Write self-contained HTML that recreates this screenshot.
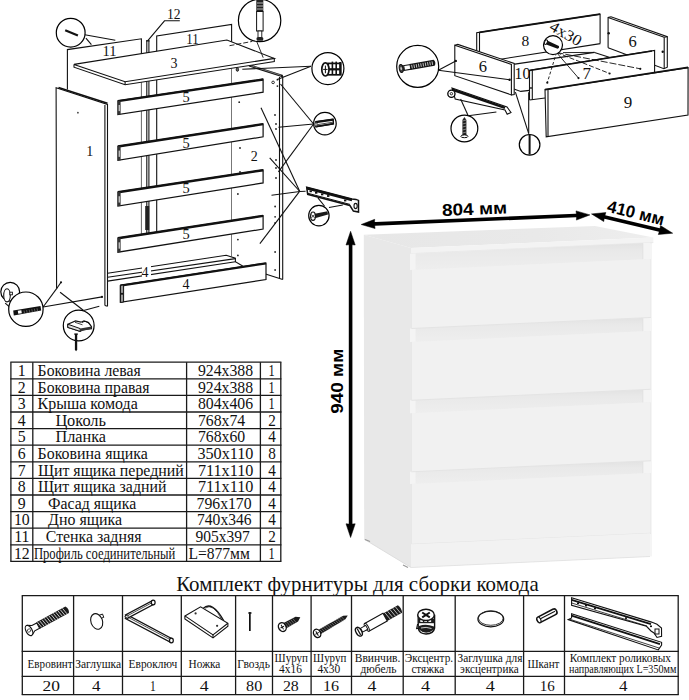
<!DOCTYPE html>
<html><head><meta charset="utf-8"><style>
html,body{margin:0;padding:0;background:#fff;}
body{width:689px;height:700px;overflow:hidden;}
svg{display:block;}
.S{font-family:"Liberation Serif", serif;fill:#111;}
.A{font-family:"Liberation Sans", sans-serif;fill:#000;}
</style></head><body>
<svg width="689" height="700" viewBox="0 0 689 700">
<g stroke="#1a1a1a" stroke-width="1.3">
<line x1="10.3" y1="362.2" x2="281.4" y2="362.2" stroke="#1a1a1a" stroke-width="1.3"/>
<line x1="10.3" y1="378.8" x2="281.4" y2="378.8" stroke="#1a1a1a" stroke-width="1.3"/>
<line x1="10.3" y1="395.4" x2="281.4" y2="395.4" stroke="#1a1a1a" stroke-width="1.3"/>
<line x1="10.3" y1="412.0" x2="281.4" y2="412.0" stroke="#1a1a1a" stroke-width="1.3"/>
<line x1="10.3" y1="428.6" x2="281.4" y2="428.6" stroke="#1a1a1a" stroke-width="1.3"/>
<line x1="10.3" y1="445.2" x2="281.4" y2="445.2" stroke="#1a1a1a" stroke-width="1.3"/>
<line x1="10.3" y1="461.8" x2="281.4" y2="461.8" stroke="#1a1a1a" stroke-width="1.3"/>
<line x1="10.3" y1="478.4" x2="281.4" y2="478.4" stroke="#1a1a1a" stroke-width="1.3"/>
<line x1="10.3" y1="495.0" x2="281.4" y2="495.0" stroke="#1a1a1a" stroke-width="1.3"/>
<line x1="10.3" y1="511.6" x2="281.4" y2="511.6" stroke="#1a1a1a" stroke-width="1.3"/>
<line x1="10.3" y1="528.2" x2="281.4" y2="528.2" stroke="#1a1a1a" stroke-width="1.3"/>
<line x1="10.3" y1="544.8" x2="281.4" y2="544.8" stroke="#1a1a1a" stroke-width="1.3"/>
<line x1="10.3" y1="561.4" x2="281.4" y2="561.4" stroke="#1a1a1a" stroke-width="1.3"/>
<line x1="10.9" y1="362.2" x2="10.9" y2="561.4" stroke="#1a1a1a" stroke-width="1.3"/>
<line x1="32.8" y1="362.2" x2="32.8" y2="561.4" stroke="#1a1a1a" stroke-width="1.3"/>
<line x1="186.6" y1="362.2" x2="186.6" y2="561.4" stroke="#1a1a1a" stroke-width="1.3"/>
<line x1="260.4" y1="362.2" x2="260.4" y2="561.4" stroke="#1a1a1a" stroke-width="1.3"/>
<line x1="280.8" y1="362.2" x2="280.8" y2="561.4" stroke="#1a1a1a" stroke-width="1.3"/>
</g>
<text x="21.8" y="376.0" class="S" font-size="15.8" text-anchor="middle">1</text>
<text x="37.6" y="376.0" class="S" font-size="15.8" textLength="103.2" lengthAdjust="spacingAndGlyphs">Боковина левая</text>
<text x="197.9" y="376.0" class="S" font-size="15.8" textLength="55.2" lengthAdjust="spacingAndGlyphs">924x388</text>
<text x="268.6" y="376.0" class="S" font-size="15.8" textLength="6.2" lengthAdjust="spacingAndGlyphs">1</text>
<text x="21.8" y="392.6" class="S" font-size="15.8" text-anchor="middle">2</text>
<text x="37.6" y="392.6" class="S" font-size="15.8" textLength="111.8" lengthAdjust="spacingAndGlyphs">Боковина правая</text>
<text x="197.9" y="392.6" class="S" font-size="15.8" textLength="55.2" lengthAdjust="spacingAndGlyphs">924x388</text>
<text x="268.6" y="392.6" class="S" font-size="15.8" textLength="6.2" lengthAdjust="spacingAndGlyphs">1</text>
<text x="21.8" y="409.2" class="S" font-size="15.8" text-anchor="middle">3</text>
<text x="37.6" y="409.2" class="S" font-size="15.8" textLength="100.2" lengthAdjust="spacingAndGlyphs">Крыша комода</text>
<text x="197.9" y="409.2" class="S" font-size="15.8" textLength="55.2" lengthAdjust="spacingAndGlyphs">804x406</text>
<text x="268.6" y="409.2" class="S" font-size="15.8" textLength="6.2" lengthAdjust="spacingAndGlyphs">1</text>
<text x="21.8" y="425.8" class="S" font-size="15.8" text-anchor="middle">4</text>
<text x="55.5" y="425.8" class="S" font-size="15.8" textLength="50.5" lengthAdjust="spacingAndGlyphs">Цоколь</text>
<text x="197.9" y="425.8" class="S" font-size="15.8" textLength="47.3" lengthAdjust="spacingAndGlyphs">768x74</text>
<text x="268.2" y="425.8" class="S" font-size="15.8" textLength="7.6" lengthAdjust="spacingAndGlyphs">2</text>
<text x="21.8" y="442.4" class="S" font-size="15.8" text-anchor="middle">5</text>
<text x="55.5" y="442.4" class="S" font-size="15.8" textLength="50.5" lengthAdjust="spacingAndGlyphs">Планка</text>
<text x="197.9" y="442.4" class="S" font-size="15.8" textLength="47.3" lengthAdjust="spacingAndGlyphs">768x60</text>
<text x="268.2" y="442.4" class="S" font-size="15.8" textLength="7.6" lengthAdjust="spacingAndGlyphs">4</text>
<text x="21.8" y="459.0" class="S" font-size="15.8" text-anchor="middle">6</text>
<text x="37.6" y="459.0" class="S" font-size="15.8" textLength="110.2" lengthAdjust="spacingAndGlyphs">Боковина ящика</text>
<text x="197.4" y="459.0" class="S" font-size="15.8" textLength="56.0" lengthAdjust="spacingAndGlyphs">350x110</text>
<text x="268.2" y="459.0" class="S" font-size="15.8" textLength="7.6" lengthAdjust="spacingAndGlyphs">8</text>
<text x="21.8" y="475.6" class="S" font-size="15.8" text-anchor="middle">7</text>
<text x="37.9" y="475.6" class="S" font-size="15.8" textLength="145.9" lengthAdjust="spacingAndGlyphs">Щит ящика передний</text>
<text x="197.9" y="475.6" class="S" font-size="15.8" textLength="55.5" lengthAdjust="spacingAndGlyphs">711x110</text>
<text x="268.2" y="475.6" class="S" font-size="15.8" textLength="7.6" lengthAdjust="spacingAndGlyphs">4</text>
<text x="21.8" y="492.2" class="S" font-size="15.8" text-anchor="middle">8</text>
<text x="37.9" y="492.2" class="S" font-size="15.8" textLength="128.5" lengthAdjust="spacingAndGlyphs">Щит ящика задний</text>
<text x="197.9" y="492.2" class="S" font-size="15.8" textLength="55.5" lengthAdjust="spacingAndGlyphs">711x110</text>
<text x="268.2" y="492.2" class="S" font-size="15.8" textLength="7.6" lengthAdjust="spacingAndGlyphs">4</text>
<text x="21.8" y="508.8" class="S" font-size="15.8" text-anchor="middle">9</text>
<text x="48.1" y="508.8" class="S" font-size="15.8" textLength="88.1" lengthAdjust="spacingAndGlyphs">Фасад ящика</text>
<text x="196.6" y="508.8" class="S" font-size="15.8" textLength="55.0" lengthAdjust="spacingAndGlyphs">796x170</text>
<text x="268.2" y="508.8" class="S" font-size="15.8" textLength="7.6" lengthAdjust="spacingAndGlyphs">4</text>
<text x="21.8" y="525.4" class="S" font-size="15.8" text-anchor="middle">10</text>
<text x="48.1" y="525.4" class="S" font-size="15.8" textLength="74.1" lengthAdjust="spacingAndGlyphs">Дно ящика</text>
<text x="197.0" y="525.4" class="S" font-size="15.8" textLength="54.6" lengthAdjust="spacingAndGlyphs">740x346</text>
<text x="268.2" y="525.4" class="S" font-size="15.8" textLength="7.6" lengthAdjust="spacingAndGlyphs">4</text>
<text x="21.8" y="542.0" class="S" font-size="15.8" text-anchor="middle">11</text>
<text x="45.8" y="542.0" class="S" font-size="15.8" textLength="95.7" lengthAdjust="spacingAndGlyphs">Стенка задняя</text>
<text x="195.6" y="542.0" class="S" font-size="15.8" textLength="54.2" lengthAdjust="spacingAndGlyphs">905x397</text>
<text x="268.2" y="542.0" class="S" font-size="15.8" textLength="7.6" lengthAdjust="spacingAndGlyphs">2</text>
<text x="21.8" y="558.6" class="S" font-size="15.8" text-anchor="middle">12</text>
<text x="33.900000000000006" y="558.6" class="S" font-size="15.8" textLength="141.5" lengthAdjust="spacingAndGlyphs">Профиль соединительный</text>
<text x="188.4" y="558.6" class="S" font-size="15.8" textLength="61.4" lengthAdjust="spacingAndGlyphs">L=877мм</text>
<text x="268.6" y="558.6" class="S" font-size="15.8" textLength="6.2" lengthAdjust="spacingAndGlyphs">1</text>
<text x="176.2" y="591.1" class="S" font-size="20.3" textLength="362.5" lengthAdjust="spacingAndGlyphs">Комплект фурнитуры для сборки комода</text>
<line x1="21.7" y1="595.7" x2="678.8" y2="595.7" stroke="#1a1a1a" stroke-width="1.3"/>
<line x1="21.7" y1="651.3" x2="678.8" y2="651.3" stroke="#1a1a1a" stroke-width="1.3"/>
<line x1="21.7" y1="676.4" x2="678.8" y2="676.4" stroke="#1a1a1a" stroke-width="1.3"/>
<line x1="21.7" y1="694.7" x2="678.8" y2="694.7" stroke="#1a1a1a" stroke-width="1.3"/>
<line x1="22.3" y1="595.7" x2="22.3" y2="694.7" stroke="#1a1a1a" stroke-width="1.3"/>
<line x1="73.6" y1="595.7" x2="73.6" y2="694.7" stroke="#1a1a1a" stroke-width="1.3"/>
<line x1="122.5" y1="595.7" x2="122.5" y2="694.7" stroke="#1a1a1a" stroke-width="1.3"/>
<line x1="181.3" y1="595.7" x2="181.3" y2="694.7" stroke="#1a1a1a" stroke-width="1.3"/>
<line x1="235.6" y1="595.7" x2="235.6" y2="694.7" stroke="#1a1a1a" stroke-width="1.3"/>
<line x1="272.5" y1="595.7" x2="272.5" y2="694.7" stroke="#1a1a1a" stroke-width="1.3"/>
<line x1="311.1" y1="595.7" x2="311.1" y2="694.7" stroke="#1a1a1a" stroke-width="1.3"/>
<line x1="351.5" y1="595.7" x2="351.5" y2="694.7" stroke="#1a1a1a" stroke-width="1.3"/>
<line x1="403.2" y1="595.7" x2="403.2" y2="694.7" stroke="#1a1a1a" stroke-width="1.3"/>
<line x1="455.2" y1="595.7" x2="455.2" y2="694.7" stroke="#1a1a1a" stroke-width="1.3"/>
<line x1="523.6" y1="595.7" x2="523.6" y2="694.7" stroke="#1a1a1a" stroke-width="1.3"/>
<line x1="564.5" y1="595.7" x2="564.5" y2="694.7" stroke="#1a1a1a" stroke-width="1.3"/>
<line x1="678.2" y1="595.7" x2="678.2" y2="694.7" stroke="#1a1a1a" stroke-width="1.3"/>
<text x="27.599999999999998" y="667.7" class="S" font-size="11.5" textLength="45.0" lengthAdjust="spacingAndGlyphs">Евровинт</text>
<text x="75.2" y="667.7" class="S" font-size="11.5" textLength="45.9" lengthAdjust="spacingAndGlyphs">Заглушка</text>
<text x="128.6" y="667.7" class="S" font-size="11.5" textLength="48.7" lengthAdjust="spacingAndGlyphs">Евроключ</text>
<text x="188.6" y="667.7" class="S" font-size="11.5" textLength="31.7" lengthAdjust="spacingAndGlyphs">Ножка</text>
<text x="237.2" y="667.7" class="S" font-size="11.5" textLength="32.7" lengthAdjust="spacingAndGlyphs">Гвоздь</text>
<text x="274.59999999999997" y="661.7" class="S" font-size="11.5" textLength="33.4" lengthAdjust="spacingAndGlyphs">Шуруп</text>
<text x="279.09999999999997" y="673" class="S" font-size="11.5" textLength="22.9" lengthAdjust="spacingAndGlyphs">4x16</text>
<text x="313.09999999999997" y="661.7" class="S" font-size="11.5" textLength="33.2" lengthAdjust="spacingAndGlyphs">Шуруп</text>
<text x="317.4" y="673" class="S" font-size="11.5" textLength="22.9" lengthAdjust="spacingAndGlyphs">4x30</text>
<text x="354.8" y="661.7" class="S" font-size="11.5" textLength="45.5" lengthAdjust="spacingAndGlyphs">Ввинчив.</text>
<text x="360.5" y="673" class="S" font-size="11.5" textLength="36.0" lengthAdjust="spacingAndGlyphs">дюбель</text>
<text x="404.8" y="661.7" class="S" font-size="11.5" textLength="48.3" lengthAdjust="spacingAndGlyphs">Эксцентр.</text>
<text x="411.4" y="673" class="S" font-size="11.5" textLength="32.7" lengthAdjust="spacingAndGlyphs">стяжка</text>
<text x="457.59999999999997" y="661.7" class="S" font-size="11.5" textLength="64.8" lengthAdjust="spacingAndGlyphs">Заглушка для</text>
<text x="460.09999999999997" y="673" class="S" font-size="11.5" textLength="58.5" lengthAdjust="spacingAndGlyphs">эксцентрика</text>
<text x="527.4000000000001" y="667.7" class="S" font-size="11.5" textLength="32.0" lengthAdjust="spacingAndGlyphs">Шкант</text>
<text x="569.7" y="661.7" class="S" font-size="11.5" textLength="101.3" lengthAdjust="spacingAndGlyphs">Комплект роликовых</text>
<text x="569.1" y="673" class="S" font-size="11.5" textLength="107.2" lengthAdjust="spacingAndGlyphs">направляющих L=350мм</text>
<text x="42.5" y="691.0" class="S" font-size="15.6" textLength="17.4" lengthAdjust="spacingAndGlyphs">20</text>
<text x="92.0" y="691.0" class="S" font-size="15.6" textLength="8.5" lengthAdjust="spacingAndGlyphs">4</text>
<text x="150.1" y="691.0" class="S" font-size="15.6" textLength="5.7" lengthAdjust="spacingAndGlyphs">1</text>
<text x="199.7" y="691.0" class="S" font-size="15.6" textLength="8.9" lengthAdjust="spacingAndGlyphs">4</text>
<text x="246.1" y="691.0" class="S" font-size="15.6" textLength="16.1" lengthAdjust="spacingAndGlyphs">80</text>
<text x="282.9" y="691.0" class="S" font-size="15.6" textLength="15.9" lengthAdjust="spacingAndGlyphs">28</text>
<text x="322.9" y="691.0" class="S" font-size="15.6" textLength="16.1" lengthAdjust="spacingAndGlyphs">16</text>
<text x="367.4" y="691.0" class="S" font-size="15.6" textLength="8.9" lengthAdjust="spacingAndGlyphs">4</text>
<text x="421.0" y="691.0" class="S" font-size="15.6" textLength="9.1" lengthAdjust="spacingAndGlyphs">4</text>
<text x="485.7" y="691.0" class="S" font-size="15.6" textLength="9.1" lengthAdjust="spacingAndGlyphs">4</text>
<text x="539.7" y="691.0" class="S" font-size="15.6" textLength="15.0" lengthAdjust="spacingAndGlyphs">16</text>
<text x="618.9" y="691.0" class="S" font-size="15.6" textLength="8.5" lengthAdjust="spacingAndGlyphs">4</text>
<defs><linearGradient id="rg" x1="0" y1="0" x2="0" y2="1"><stop offset="0" stop-color="#e2e2e2"/><stop offset="0.3" stop-color="#e9e9e9"/><stop offset="1" stop-color="#eeeeee"/></linearGradient><linearGradient id="tg" x1="0" y1="0" x2="1" y2="0"><stop offset="0" stop-color="#e7e7e7"/><stop offset="0.6" stop-color="#e9e9e9"/><stop offset="1" stop-color="#eeeeee"/></linearGradient></defs>
<polygon points="363.8,234.8 411.0,248 411.0,567.5 364.2,539.2" fill="#e8e8e8" stroke="none" stroke-width="1"/>
<line x1="364.2" y1="539.2" x2="411.0" y2="567.5" stroke="#d8d8d8" stroke-width="0.8"/>
<polygon points="363.8,234.8 595,226 653.3,237.4 411.0,248" fill="url(#tg)" stroke="none" stroke-width="1"/>
<polygon points="411.0,248 653.3,237.4 653.3,242.6 411.0,253.7" fill="#f3f3f3" stroke="none" stroke-width="1"/>
<line x1="411.0" y1="253.7" x2="653.3" y2="242.6" stroke="#e2e2e2" stroke-width="0.7"/>
<polygon points="411.0,253.7 650,242.71 650,556.51 411.0,567.5" fill="#efefef" stroke="none" stroke-width="1"/>
<polygon points="411.0,253.7 650,242.71 650,259.01 411.0,270" fill="url(#rg)" stroke="none" stroke-width="1"/>
<polygon points="642.8,243.04 650,242.71 650,259.01 642.8,259.34" fill="#f4f4f4" stroke="none" stroke-width="1"/>
<line x1="642.8" y1="243.04" x2="642.8" y2="259.34" stroke="#dedede" stroke-width="0.8"/>
<polygon points="410.0,253.7 415.6,253.49 415.6,269.79 410.0,270" fill="#f4f4f4" stroke="none" stroke-width="1"/>
<polygon points="411.0,328.5 650,317.51 650,331.01 411.0,342" fill="url(#rg)" stroke="none" stroke-width="1"/>
<polygon points="642.8,317.84 650,317.51 650,331.01 642.8,331.34" fill="#f4f4f4" stroke="none" stroke-width="1"/>
<line x1="642.8" y1="317.84" x2="642.8" y2="331.34" stroke="#dedede" stroke-width="0.8"/>
<polygon points="410.0,328.5 415.6,328.29 415.6,341.79 410.0,342" fill="#f4f4f4" stroke="none" stroke-width="1"/>
<polygon points="411.0,400.3 650,389.31 650,402.21 411.0,413.2" fill="url(#rg)" stroke="none" stroke-width="1"/>
<polygon points="642.8,389.64 650,389.31 650,402.21 642.8,402.54" fill="#f4f4f4" stroke="none" stroke-width="1"/>
<line x1="642.8" y1="389.64" x2="642.8" y2="402.54" stroke="#dedede" stroke-width="0.8"/>
<polygon points="410.0,400.3 415.6,400.09 415.6,412.99 410.0,413.2" fill="#f4f4f4" stroke="none" stroke-width="1"/>
<polygon points="411.0,471.8 650,460.81 650,473.01 411.0,484" fill="url(#rg)" stroke="none" stroke-width="1"/>
<polygon points="642.8,461.14 650,460.81 650,473.01 642.8,473.34" fill="#f4f4f4" stroke="none" stroke-width="1"/>
<line x1="642.8" y1="461.14" x2="642.8" y2="473.34" stroke="#dedede" stroke-width="0.8"/>
<polygon points="410.0,471.8 415.6,471.59 415.6,483.79 410.0,484" fill="#f4f4f4" stroke="none" stroke-width="1"/>
<polygon points="411.5,270 651,258.96 651,317.46 411.5,328.5" fill="#f1f1f1" stroke="none" stroke-width="1"/>
<line x1="411.5" y1="328.5" x2="651" y2="317.46" stroke="#e4e4e4" stroke-width="1"/>
<line x1="411.5" y1="270" x2="411.5" y2="328.5" stroke="#e4e4e4" stroke-width="0.8"/>
<polygon points="411.5,342 651,330.96 651,389.26 411.5,400.3" fill="#f1f1f1" stroke="none" stroke-width="1"/>
<line x1="411.5" y1="400.3" x2="651" y2="389.26" stroke="#e4e4e4" stroke-width="1"/>
<line x1="411.5" y1="342" x2="411.5" y2="400.3" stroke="#e4e4e4" stroke-width="0.8"/>
<polygon points="411.5,413.2 651,402.16 651,460.76 411.5,471.8" fill="#f1f1f1" stroke="none" stroke-width="1"/>
<line x1="411.5" y1="471.8" x2="651" y2="460.76" stroke="#e4e4e4" stroke-width="1"/>
<line x1="411.5" y1="413.2" x2="411.5" y2="471.8" stroke="#e4e4e4" stroke-width="0.8"/>
<polygon points="411.5,484 651,472.96 651,533.26 411.5,544.3" fill="#f1f1f1" stroke="none" stroke-width="1"/>
<line x1="411.5" y1="544.3" x2="651" y2="533.26" stroke="#e4e4e4" stroke-width="1"/>
<line x1="411.5" y1="484" x2="411.5" y2="544.3" stroke="#e4e4e4" stroke-width="0.8"/>
<polygon points="411.0,544.3 650,533.31 650,556.51 411.0,567.5" fill="#f2f2f2" stroke="none" stroke-width="1"/>
<line x1="411.0" y1="567.5" x2="650" y2="556.51" stroke="#e0e0e0" stroke-width="0.8"/>
<line x1="365" y1="539.5" x2="370" y2="541.5" stroke="#999" stroke-width="1.2"/>
<line x1="403" y1="565" x2="408" y2="567.5" stroke="#999" stroke-width="1.2"/>
<line x1="651" y1="242.66" x2="651" y2="556.46" stroke="#e6e6e6" stroke-width="0.8"/>
<line x1="369.41" y1="224.16" x2="581.69" y2="215.24" stroke="#000" stroke-width="3.6"/>
<polygon points="589.9,214.9 576.4,220.07 576.62,215.46 576.02,210.88" fill="#000" stroke="#000" stroke-width="0.5"/>
<polygon points="361.2,224.5 375.08,228.52 374.48,223.94 374.7,219.33" fill="#000" stroke="#000" stroke-width="0.5"/>
<line x1="599.5" y1="215.8" x2="664.7" y2="231.3" stroke="#000" stroke-width="3.6"/>
<polygon points="672.7,233.2 658.31,234.51 659.77,230.13 660.44,225.56" fill="#000" stroke="#000" stroke-width="0.5"/>
<polygon points="591.5,213.9 603.76,221.54 604.43,216.97 605.89,212.59" fill="#000" stroke="#000" stroke-width="0.5"/>
<line x1="350.6" y1="239.52" x2="350.6" y2="529.28" stroke="#000" stroke-width="3.6"/>
<polygon points="350.6,537.5 346.0,523.8 350.6,524.21 355.2,523.8" fill="#000" stroke="#000" stroke-width="0.5"/>
<polygon points="350.6,231.3 346.0,245.0 350.6,244.59 355.2,245.0" fill="#000" stroke="#000" stroke-width="0.5"/>
<text x="442" y="214.8" class="A" font-size="17" font-weight="bold" textLength="65" lengthAdjust="spacingAndGlyphs" transform="rotate(-2.2 474 209)">804 мм</text>
<text x="0" y="0" class="A" font-size="17" font-weight="bold" textLength="58" lengthAdjust="spacingAndGlyphs" transform="translate(606.3,211.5) rotate(14)">410 мм</text>
<text x="0" y="0" class="A" font-size="17.2" font-weight="bold" textLength="65" lengthAdjust="spacingAndGlyphs" transform="translate(343.0,413.8) rotate(-90)">940 мм</text>
<polygon points="67.4,49.6 141.4,38.8 141.4,70 67.4,90" fill="#fff" stroke="none" stroke-width="1"/>
<polyline points="67.4,89.6 67.4,49.6 141.4,38.8 141.4,60" fill="none" stroke="#111" stroke-width="1.1"/>
<line x1="141.4" y1="60" x2="141.4" y2="236" stroke="#666" stroke-width="1.0"/>
<polygon points="156.7,35.9 231.6,24.4 231.6,60 156.7,70" fill="#fff" stroke="none" stroke-width="1"/>
<polyline points="156.7,236 156.7,35.9 231.6,24.4 231.6,256.5" fill="none" stroke="#111" stroke-width="1.1"/>
<line x1="146.8" y1="40.6" x2="146.8" y2="236" stroke="#111" stroke-width="1.1"/>
<line x1="148.9" y1="40.6" x2="148.9" y2="236" stroke="#111" stroke-width="1.1"/>
<line x1="146.2" y1="40.8" x2="149.5" y2="40.8" stroke="#111" stroke-width="1.4"/>
<rect x="145.2" y="206" width="4" height="24" fill="#222"/>
<polyline points="147.8,40.7 164.5,20.8 179.8,20.8" fill="none" stroke="#111" stroke-width="1.1"/>
<text x="166.9" y="18.9" class="S" font-size="14.2" textLength="13.6" lengthAdjust="spacingAndGlyphs">12</text>
<text x="102.6" y="56.2" class="S" font-size="14" textLength="14" lengthAdjust="spacingAndGlyphs">11</text>
<text x="186.3" y="43.8" class="S" font-size="14" textLength="12.4" lengthAdjust="spacingAndGlyphs">11</text>
<polygon points="231.6,60 282.7,76.1 282.7,279.5 231.6,262" fill="#fff" stroke="none" stroke-width="1"/>
<line x1="249.2" y1="65.4" x2="282.7" y2="76.1" stroke="#111" stroke-width="2.4"/>
<line x1="250.5" y1="65.6" x2="281" y2="75.4" stroke="#bbb" stroke-width="0.6"/>
<circle cx="273.1" cy="82.4" r="1.3" fill="#fff" stroke="#000" stroke-width="0.8"/>
<line x1="279.5" y1="77" x2="279.5" y2="278.5" stroke="#111" stroke-width="1.1"/>
<line x1="282.7" y1="76.1" x2="282.7" y2="279.5" stroke="#111" stroke-width="1.1"/>
<line x1="265.5" y1="274.1" x2="282.7" y2="279.5" stroke="#111" stroke-width="1.1"/>
<circle cx="237.9" cy="194" r="0.9" fill="#222" stroke="none" stroke-width="0"/>
<circle cx="237.9" cy="239.6" r="0.9" fill="#222" stroke="none" stroke-width="0"/>
<circle cx="237.9" cy="255.4" r="0.9" fill="#222" stroke="none" stroke-width="0"/>
<circle cx="275.1" cy="206.5" r="0.9" fill="#222" stroke="none" stroke-width="0"/>
<circle cx="275.1" cy="216.8" r="0.9" fill="#222" stroke="none" stroke-width="0"/>
<circle cx="275.1" cy="223" r="0.9" fill="#222" stroke="none" stroke-width="0"/>
<circle cx="275.1" cy="252" r="0.9" fill="#222" stroke="none" stroke-width="0"/>
<circle cx="275.1" cy="270" r="0.9" fill="#222" stroke="none" stroke-width="0"/>
<circle cx="239.2" cy="102.2" r="0.9" fill="#222" stroke="none" stroke-width="0"/>
<circle cx="275" cy="115" r="0.9" fill="#222" stroke="none" stroke-width="0"/>
<circle cx="276" cy="124" r="0.9" fill="#222" stroke="none" stroke-width="0"/>
<circle cx="276" cy="129" r="0.9" fill="#222" stroke="none" stroke-width="0"/>
<circle cx="277.4" cy="86.1" r="0.9" fill="#222" stroke="none" stroke-width="0"/>
<circle cx="277.4" cy="79.7" r="0.9" fill="#222" stroke="none" stroke-width="0"/>
<circle cx="240" cy="148" r="0.9" fill="#222" stroke="none" stroke-width="0"/>
<circle cx="276" cy="160" r="0.9" fill="#222" stroke="none" stroke-width="0"/>
<circle cx="276" cy="168" r="0.9" fill="#222" stroke="none" stroke-width="0"/>
<circle cx="276" cy="178" r="0.9" fill="#222" stroke="none" stroke-width="0"/>
<circle cx="240" cy="172" r="0.9" fill="#222" stroke="none" stroke-width="0"/>
<text x="250.8" y="161.3" class="S" font-size="14">2</text>
<polygon points="74,64.4 226.9,40 274.3,58.4 274.3,61.6 125.1,84.8 74,67.2" fill="#fff" stroke="none" stroke-width="1"/>
<polygon points="74,64.4 226.9,40 274.3,58.4 125.1,81.7" fill="none" stroke="#111" stroke-width="1.1"/>
<polyline points="74,64.4 74,67.2 125.1,84.8 274.3,61.6 274.3,58.4" fill="none" stroke="#111" stroke-width="1.1"/>
<line x1="125.1" y1="81.7" x2="125.1" y2="84.8" stroke="#111" stroke-width="1.1"/>
<text x="170.4" y="68.3" class="S" font-size="14">3</text>
<line x1="229.5" y1="45.7" x2="252.3" y2="41.4" stroke="#111" stroke-width="0.9" stroke-dasharray="5 2"/>
<line x1="256.7" y1="41.4" x2="263.2" y2="57.7" stroke="#111" stroke-width="0.9"/>
<polygon points="56.1,87.8 107.5,104.4 107.5,306.2 56.6,288.7" fill="#fff" stroke="none" stroke-width="1"/>
<polyline points="56.6,288.7 56.1,87.8 107.5,104.4 107.5,306.2" fill="none" stroke="#111" stroke-width="1.1"/>
<line x1="58.5" y1="87.5" x2="107.5" y2="103.2" stroke="#111" stroke-width="1.6"/>
<line x1="104.9" y1="105" x2="104.9" y2="305.5" stroke="#111" stroke-width="1.1"/>
<line x1="104.9" y1="305.5" x2="107.5" y2="306.2" stroke="#111" stroke-width="1.1"/>
<circle cx="77.9" cy="112.7" r="0.9" fill="#444" stroke="none" stroke-width="0"/>
<text x="86.2" y="156" class="S" font-size="14">1</text>
<polygon points="117.9,100.9 263.1,79.3 263.1,92.2 117.9,114.5" fill="#fff" stroke="#111" stroke-width="1.2"/>
<line x1="117.9" y1="101.1" x2="263.1" y2="79.5" stroke="#111" stroke-width="2.4"/>
<rect x="117.9" y="100.9" width="2.7" height="13.6" fill="#333"/>
<rect x="118.6" y="104.98" width="1.3" height="6.12" fill="#ccc"/>
<text x="182.6" y="102.4" class="S" font-size="14.4">5</text>
<polygon points="117.9,146.3 263.1,123.9 263.1,136.8 117.9,160.4" fill="#fff" stroke="#111" stroke-width="1.2"/>
<line x1="117.9" y1="146.5" x2="263.1" y2="124.1" stroke="#111" stroke-width="2.4"/>
<rect x="117.9" y="146.3" width="2.7" height="14.1" fill="#333"/>
<rect x="118.6" y="150.53" width="1.3" height="6.34" fill="#ccc"/>
<text x="182.6" y="147.5" class="S" font-size="14.4">5</text>
<polygon points="117.9,192.0 263.1,170.0 263.1,182.9 117.9,206.1" fill="#fff" stroke="#111" stroke-width="1.2"/>
<line x1="117.9" y1="192.2" x2="263.1" y2="170.2" stroke="#111" stroke-width="2.4"/>
<rect x="117.9" y="192.0" width="2.7" height="14.1" fill="#333"/>
<rect x="118.6" y="196.23" width="1.3" height="6.34" fill="#ccc"/>
<text x="182.6" y="193.3" class="S" font-size="14.4">5</text>
<polygon points="117.9,238.1 263.1,215.7 263.1,229.1 117.9,252.2" fill="#fff" stroke="#111" stroke-width="1.2"/>
<line x1="117.9" y1="238.3" x2="263.1" y2="215.9" stroke="#111" stroke-width="2.4"/>
<rect x="117.9" y="238.1" width="2.7" height="14.1" fill="#333"/>
<rect x="118.6" y="242.33" width="1.3" height="6.34" fill="#ccc"/>
<text x="182.6" y="239.2" class="S" font-size="14.4">5</text>
<polyline points="107.6,273.3 226.2,255.2 235.4,258.2 235.4,261.8 243,266.3" fill="none" stroke="#111" stroke-width="1.1"/>
<line x1="107.6" y1="277.2" x2="235.4" y2="258.6" stroke="#111" stroke-width="1.1"/>
<line x1="107.6" y1="281.1" x2="235.4" y2="261.8" stroke="#111" stroke-width="1.1"/>
<rect x="142" y="264" width="9" height="14" fill="#fff"/>
<text x="141.6" y="277.2" class="S" font-size="14">4</text>
<polygon points="120.4,285.4 266,263.1 266,279.6 120.4,302.4" fill="#fff" stroke="#111" stroke-width="1.2"/>
<line x1="120.4" y1="285.6" x2="266" y2="263.3" stroke="#111" stroke-width="2.3"/>
<polygon points="120.4,285.4 123.6,284.9 123.6,302 120.4,302.4" fill="#999" stroke="#111" stroke-width="1"/>
<circle cx="122" cy="293.8" r="1.1" fill="#111" stroke="none" stroke-width="0"/>
<text x="182.5" y="289.0" class="S" font-size="14">4</text>
<line x1="84.8" y1="34.8" x2="115.3" y2="40.3" stroke="#111" stroke-width="1.1"/>
<line x1="85.9" y1="38.1" x2="91.4" y2="44.6" stroke="#111" stroke-width="1.1"/>
<circle cx="70.7" cy="32.7" r="14.4" fill="#fff" stroke="#000" stroke-width="1.2"/>
<line x1="65.2" y1="30.3" x2="77.9" y2="35.5" stroke="#111" stroke-width="2.2"/>
<circle cx="259.6" cy="20.5" r="21.2" fill="#fff" stroke="#000" stroke-width="1.2"/>
<rect x="256.3" y="0" width="7" height="11.5" fill="#222"/>
<line x1="257" y1="3" x2="263" y2="3" stroke="#ddd" stroke-width="0.8"/>
<line x1="257" y1="6" x2="263" y2="6" stroke="#ddd" stroke-width="0.8"/>
<line x1="257" y1="9" x2="263" y2="9" stroke="#ddd" stroke-width="0.8"/>
<rect x="256.6" y="11.5" width="6.5" height="19.5" fill="#fff" stroke="#111" stroke-width="1"/>
<rect x="258" y="31" width="3.8" height="6.5" fill="#fff" stroke="#111" stroke-width="0.9"/>
<rect x="256.6" y="37.3" width="6.6" height="3.4" fill="#222" rx="1"/>
<line x1="311" y1="66.3" x2="242.3" y2="69.2" stroke="#111" stroke-width="1.1"/>
<line x1="311" y1="66.3" x2="277.3" y2="79.4" stroke="#111" stroke-width="1.1"/>
<circle cx="327.9" cy="68.6" r="16" fill="#fff" stroke="#000" stroke-width="1.2"/>
<rect x="328.2" y="63.4" width="12.4" height="11.4" fill="#fff" stroke="#111" stroke-width="1.7"/>
<rect x="328.2" y="68.2" width="12.4" height="2.2" fill="#111"/>
<rect x="331.6" y="61.6" width="1.6" height="13.2" fill="#111"/><rect x="335.4" y="61.6" width="1.6" height="13.2" fill="#111"/>
<rect x="339.2" y="62" width="2.2" height="13" fill="#111"/>
<ellipse cx="325.4" cy="69.4" rx="3.6" ry="6.6" fill="#fff" stroke="#111" stroke-width="1.7"/>
<line x1="325.4" y1="65.6" x2="325.4" y2="73.2" stroke="#111" stroke-width="1"/>
<line x1="323.2" y1="69.4" x2="327.6" y2="69.4" stroke="#111" stroke-width="1"/>
<ellipse cx="237.4" cy="69.6" rx="1.2" ry="1.7" fill="#666" stroke="#111" stroke-width="0.9"/>
<line x1="313.6" y1="124" x2="280.5" y2="84" stroke="#111" stroke-width="1.1"/>
<line x1="313.6" y1="124" x2="278.4" y2="127.3" stroke="#111" stroke-width="1.1"/>
<line x1="313.6" y1="124" x2="278.4" y2="171.9" stroke="#111" stroke-width="1.1"/>
<circle cx="324.9" cy="123.6" r="11.3" fill="#fff" stroke="#000" stroke-width="1.2"/>
<polygon points="315.6,122 333.2,119.4 333.4,123.8 315.8,126.8" fill="#fff" stroke="#111" stroke-width="1.4"/>
<line x1="315.6" y1="122.2" x2="333.2" y2="119.6" stroke="#111" stroke-width="2.2"/>
<line x1="317.5" y1="124.6" x2="333" y2="122.2" stroke="#333" stroke-width="0.9"/>
<line x1="315.8" y1="126.6" x2="333.4" y2="123.8" stroke="#111" stroke-width="1.6"/>
<ellipse cx="316" cy="124.4" rx="1.1" ry="2.4" fill="#fff" stroke="#111" stroke-width="1"/>
<line x1="261" y1="107.7" x2="299.8" y2="191.5" stroke="#111" stroke-width="1.1"/>
<line x1="269.7" y1="157.8" x2="299.8" y2="191.5" stroke="#111" stroke-width="1.1"/>
<line x1="271.5" y1="195.2" x2="299.8" y2="191.5" stroke="#111" stroke-width="1.1"/>
<line x1="299.8" y1="191.5" x2="305.6" y2="191.2" stroke="#111" stroke-width="1.1"/>
<line x1="299.2" y1="191.8" x2="259.9" y2="243.7" stroke="#111" stroke-width="1.1"/>
<polygon points="306.7,187.2 351.9,198.9 356,199.4 358.5,200.4 358.5,212.1 353.4,211.1 349.9,205.5 307.7,194.3" fill="#fff" stroke="#111" stroke-width="1.5"/>
<line x1="306.9" y1="188.2" x2="352" y2="200" stroke="#111" stroke-width="2.6"/>
<line x1="307.5" y1="193.2" x2="350" y2="204.4" stroke="#111" stroke-width="1"/>
<rect x="309.5" y="190.4" width="2.4" height="1.8" fill="#111"/>
<rect x="315" y="191.9" width="2.4" height="1.8" fill="#111"/>
<rect x="321" y="193.5" width="2.4" height="1.8" fill="#111"/>
<rect x="327" y="195.1" width="2.4" height="1.8" fill="#111"/>
<rect x="344" y="199.6" width="2.4" height="1.8" fill="#111"/>
<ellipse cx="355.6" cy="206" rx="1.6" ry="2.6" fill="#fff" stroke="#111" stroke-width="1.1"/>
<line x1="317.9" y1="197.9" x2="324.5" y2="206" stroke="#111" stroke-width="1.1"/>
<line x1="329" y1="207.5" x2="342.8" y2="205" stroke="#111" stroke-width="1.1"/>
<circle cx="318.9" cy="215.6" r="10.2" fill="#fff" stroke="#000" stroke-width="1.2"/>
<polygon points="313.5,214 327.5,211.2 328,214.6 314,218.6" fill="#1a1a1a"/>
<ellipse cx="313" cy="216.2" rx="2.4" ry="4.2" fill="#fff" stroke="#111" stroke-width="1.2"/>
<line x1="311.5" y1="214.6" x2="314.5" y2="217.8" stroke="#111" stroke-width="0.8"/>
<line x1="311.5" y1="217.8" x2="314.5" y2="214.6" stroke="#111" stroke-width="0.8"/>
<line x1="43.1" y1="307" x2="56.6" y2="288.7" stroke="#111" stroke-width="1.1"/>
<line x1="43.1" y1="307" x2="102" y2="296.9" stroke="#111" stroke-width="1.1"/>
<line x1="61" y1="282.3" x2="56.6" y2="288.7" stroke="#111" stroke-width="1.1"/>
<circle cx="61" cy="282.3" r="1.1" fill="#111" stroke="none" stroke-width="0"/>
<circle cx="102" cy="296.9" r="1.1" fill="#111" stroke="none" stroke-width="0"/>
<line x1="83.6" y1="310.5" x2="60.1" y2="292.2" stroke="#111" stroke-width="1.1"/>
<line x1="83.6" y1="310.5" x2="99.3" y2="306.2" stroke="#111" stroke-width="1.1"/>
<circle cx="10.2" cy="291.7" r="9.4" fill="#fff" stroke="#000" stroke-width="1.2"/>
<ellipse cx="7" cy="295.3" rx="3.3" ry="6.6" fill="#fff" stroke="#111" stroke-width="1.1"/>
<rect x="9.8" y="292.2" width="2.6" height="2.6" fill="#fff" stroke="#111" stroke-width="0.9"/>
<line x1="5.2" y1="303.1" x2="13" y2="310" stroke="#111" stroke-width="1.1"/>
<circle cx="25.9" cy="309.2" r="17.2" fill="#fff" stroke="#000" stroke-width="1.2"/>
<polygon points="13.2,310.6 40.5,306 41.2,310.6 13.8,315.6" fill="#111"/>
<rect x="18" y="310.5" width="3.6" height="3" fill="#fff" transform="rotate(-9 19.8 312)"/>
<line x1="24.0" y1="310.5" x2="24.6" y2="313.5" stroke="#888" stroke-width="0.6"/>
<line x1="26.6" y1="310.05" x2="27.2" y2="313.05" stroke="#888" stroke-width="0.6"/>
<line x1="29.2" y1="309.6" x2="29.8" y2="312.6" stroke="#888" stroke-width="0.6"/>
<line x1="31.8" y1="309.15" x2="32.4" y2="312.15" stroke="#888" stroke-width="0.6"/>
<line x1="34.4" y1="308.7" x2="35.0" y2="311.7" stroke="#888" stroke-width="0.6"/>
<line x1="37.0" y1="308.25" x2="37.6" y2="311.25" stroke="#888" stroke-width="0.6"/>
<circle cx="78.7" cy="325.5" r="15.4" fill="#fff" stroke="#000" stroke-width="1.2"/>
<polygon points="67.8,324.2 75.5,321 81,322.2 84,320.8 88.5,322.6 91.5,326.6 91.5,328.8 82.5,329.6 80.2,331.4 67.8,327.4" fill="#fff" stroke="#111" stroke-width="1.2"/>
<polygon points="67.8,324.2 80.2,328.6 80.2,331.4 67.8,327.4" fill="#ddd" stroke="#111" stroke-width="1"/>
<polygon points="80.2,328.6 91.5,326.6 91.5,328.8 80.2,331.4" fill="#333"/>
<line x1="75" y1="322.3" x2="82.5" y2="324.8" stroke="#111" stroke-width="0.8"/>
<path d="M82,322.5 Q86,319.5 90,324.5" fill="none" stroke="#111" stroke-width="1"/>
<polygon points="74.9,334 77.2,334 77.2,349.8 76.05,351.2 74.9,349.8" fill="#111"/>
<rect x="74.3" y="333.4" width="3.5" height="1.4" fill="#111"/>
<polygon points="476.7,32.7 600.1,14.1 600.1,43.3 477,62" fill="#fff" stroke="none" stroke-width="1"/>
<polyline points="476.7,53 476.7,32.7 600.1,14.1 600.1,43.3" fill="none" stroke="#111" stroke-width="1.1"/>
<line x1="479.5" y1="32.3" x2="600.1" y2="14.1" stroke="#111" stroke-width="1.8"/>
<line x1="479.5" y1="32.3" x2="479.5" y2="53" stroke="#111" stroke-width="1.1"/>
<text x="521.4" y="45.6" class="S" font-size="15.5">8</text>
<line x1="500.4" y1="59.2" x2="600.4" y2="43.6" stroke="#111" stroke-width="1.1"/>
<line x1="511.4" y1="64.6" x2="594.5" y2="52.4" stroke="#111" stroke-width="1.1"/>
<line x1="594.5" y1="52.4" x2="610" y2="57.6" stroke="#111" stroke-width="1.1"/>
<line x1="563" y1="52.6" x2="594.5" y2="52.4" stroke="#111" stroke-width="0.9"/>
<polygon points="608.1,17.5 611,16.8 667.3,36.7 667.3,67.2 663.9,68.7 608.1,47.7" fill="#fff" stroke="none" stroke-width="1"/>
<polyline points="608.1,47.7 608.1,17.5 611,16.8 667.3,36.7 667.3,67.2 663.9,68.7 608.1,47.7" fill="none" stroke="#111" stroke-width="1.1"/>
<line x1="608.1" y1="17.5" x2="664.2" y2="37.3" stroke="#111" stroke-width="1.1"/>
<line x1="664.2" y1="37.3" x2="667.3" y2="36.7" stroke="#111" stroke-width="1.1"/>
<line x1="664.2" y1="37.3" x2="664.2" y2="68.5" stroke="#111" stroke-width="1.1"/>
<circle cx="608.7" cy="33.2" r="1.2" fill="#111" stroke="none" stroke-width="0"/>
<circle cx="662.7" cy="51.8" r="1.2" fill="#111" stroke="none" stroke-width="0"/>
<text x="628.6" y="46.6" class="S" font-size="16.5">6</text>
<polygon points="529.5,70.3 532.3,69.8 654.6,50.4 654.6,80 532.3,100 529.5,100" fill="#fff" stroke="none" stroke-width="1"/>
<polyline points="529.5,100 529.5,70.5 532.3,69.8 654.6,50.4 654.6,76" fill="none" stroke="#111" stroke-width="1.1"/>
<line x1="529.5" y1="70.5" x2="652" y2="51" stroke="#111" stroke-width="1.6"/>
<line x1="532.3" y1="69.8" x2="532.3" y2="100" stroke="#111" stroke-width="1.1"/>
<line x1="529.5" y1="100" x2="545" y2="98" stroke="#111" stroke-width="1.1"/>
<circle cx="531" cy="88" r="0.9" fill="#111" stroke="none" stroke-width="0"/>
<text x="582.4" y="79.0" class="S" font-size="17">7</text>
<polyline points="513.9,89.1 520.8,91.4 529.5,90.4" fill="none" stroke="#111" stroke-width="1.1"/>
<text x="514.6" y="78.6" class="S" font-size="16.5" textLength="15.6" lengthAdjust="spacingAndGlyphs">10</text>
<polygon points="454.8,45.2 457.8,44.4 514.2,63.4 514.2,94.5 511.4,94.9 454.8,75.7" fill="#fff" stroke="none" stroke-width="1"/>
<polygon points="454.8,45.2 511.4,64.4 511.4,94.9 454.8,75.7" fill="none" stroke="#111" stroke-width="1.1"/>
<polyline points="454.8,45.2 457.8,44.4 514.2,63.4 514.2,94.5 511.4,94.9" fill="none" stroke="#111" stroke-width="1.1"/>
<circle cx="455.8" cy="60.9" r="1.2" fill="#111" stroke="none" stroke-width="0"/>
<circle cx="509.6" cy="79.7" r="1.2" fill="#111" stroke="none" stroke-width="0"/>
<text x="478.8" y="71.6" class="S" font-size="16.5">6</text>
<polygon points="545,89.6 548,89.2 688.1,67.7 688,115 546.2,136.9" fill="#fff" stroke="#111" stroke-width="1.1"/>
<line x1="545" y1="89.6" x2="688.1" y2="67.3" stroke="#111" stroke-width="1.8"/>
<line x1="548" y1="89.4" x2="548" y2="136.4" stroke="#111" stroke-width="1.1"/>
<text x="623.8" y="107.9" class="S" font-size="17">9</text>
<line x1="556.5" y1="52.5" x2="547.3" y2="82.7" stroke="#111" stroke-width="0.9" stroke-dasharray="3 2"/>
<line x1="556.5" y1="52.5" x2="578.5" y2="78.1" stroke="#111" stroke-width="0.9"/>
<line x1="556.5" y1="52.5" x2="609.6" y2="73.5" stroke="#111" stroke-width="0.9" stroke-dasharray="5 2"/>
<line x1="556.5" y1="52.5" x2="640.3" y2="68.8" stroke="#111" stroke-width="0.9" stroke-dasharray="7 2"/>
<circle cx="547.3" cy="82.7" r="1.1" fill="#111" stroke="none" stroke-width="0"/>
<circle cx="578.5" cy="78.1" r="1.1" fill="#111" stroke="none" stroke-width="0"/>
<circle cx="609.6" cy="73.5" r="1.1" fill="#111" stroke="none" stroke-width="0"/>
<circle cx="640.3" cy="68.8" r="1.1" fill="#111" stroke="none" stroke-width="0"/>
<circle cx="553" cy="45.1" r="9.5" fill="#fff" stroke="#000" stroke-width="1.2"/>
<g transform="translate(545.4,41.9) rotate(23)"><path d="M1,-2 L14,-1.6 Q15.6,0 14,1.6 L1,2 Z" fill="#111"/><ellipse cx="0.6" cy="0" rx="1.3" ry="2.4" fill="#fff" stroke="#111" stroke-width="1"/></g>
<text x="0" y="0" class="S" font-size="15.5" textLength="34" lengthAdjust="spacingAndGlyphs" transform="translate(548.6,29.6) rotate(30)">4x30</text>
<line x1="438.3" y1="70.2" x2="455.8" y2="60.9" stroke="#111" stroke-width="1.1"/>
<line x1="438.3" y1="70.2" x2="509.6" y2="79.7" stroke="#111" stroke-width="1.1"/>
<circle cx="417.7" cy="66.4" r="21" fill="#fff" stroke="#000" stroke-width="1.2"/>
<g transform="translate(400.6,68.6) rotate(-9.8)"><path d="M9.5,-3.1 L34,-3.1 Q36.5,0 34,3.1 L9.5,3.1 Z" fill="#151515"/><line x1="11.5" y1="-1.8" x2="11.5" y2="1.8" stroke="#ddd" stroke-width="0.8"/><line x1="13.8" y1="-1.8" x2="13.8" y2="1.8" stroke="#ddd" stroke-width="0.8"/><line x1="16.1" y1="-1.8" x2="16.1" y2="1.8" stroke="#ddd" stroke-width="0.8"/><line x1="18.4" y1="-1.8" x2="18.4" y2="1.8" stroke="#ddd" stroke-width="0.8"/><line x1="20.7" y1="-1.8" x2="20.7" y2="1.8" stroke="#ddd" stroke-width="0.8"/><line x1="23.0" y1="-1.8" x2="23.0" y2="1.8" stroke="#ddd" stroke-width="0.8"/><line x1="25.3" y1="-1.8" x2="25.3" y2="1.8" stroke="#ddd" stroke-width="0.8"/><line x1="27.6" y1="-1.8" x2="27.6" y2="1.8" stroke="#ddd" stroke-width="0.8"/><line x1="29.9" y1="-1.8" x2="29.9" y2="1.8" stroke="#ddd" stroke-width="0.8"/><line x1="32.2" y1="-1.8" x2="32.2" y2="1.8" stroke="#ddd" stroke-width="0.8"/><rect x="3.5" y="-2.4" width="6.5" height="4.8" fill="#fff" stroke="#111" stroke-width="1.1"/><path d="M0.5,-4 L3.5,-2.6 L3.5,2.6 L0.5,4 Z" fill="#333"/><ellipse cx="0.6" cy="0" rx="1.9" ry="4" fill="#444" stroke="#111" stroke-width="1"/><ellipse cx="0.6" cy="0" rx="0.8" ry="1.6" fill="#ccc"/></g>
<polygon points="452,88 507,107 511,112.5 507.2,114.3 505,110 455.2,99" fill="#fff" stroke="#111" stroke-width="1.1"/>
<line x1="452" y1="89.5" x2="505" y2="107.8" stroke="#111" stroke-width="2.4"/>
<circle cx="451.4" cy="93.7" r="3.6" fill="#fff" stroke="#000" stroke-width="1.3"/>
<circle cx="451.4" cy="93.7" r="1.2" fill="#fff" stroke="#000" stroke-width="0.8"/>
<line x1="460.6" y1="99" x2="468.2" y2="115.8" stroke="#111" stroke-width="1.1"/>
<line x1="496.4" y1="112" x2="468.2" y2="115.8" stroke="#111" stroke-width="1.1"/>
<circle cx="464.4" cy="128.5" r="13.4" fill="#fff" stroke="#000" stroke-width="1.2"/>
<polygon points="462.4,120 464.4,117 466.4,120 466.4,135 462.4,135" fill="#222"/>
<line x1="462.4" y1="121" x2="466.4" y2="120" stroke="#bbb" stroke-width="0.6"/>
<line x1="462.4" y1="124" x2="466.4" y2="123" stroke="#bbb" stroke-width="0.6"/>
<line x1="462.4" y1="127" x2="466.4" y2="126" stroke="#bbb" stroke-width="0.6"/>
<line x1="462.4" y1="130" x2="466.4" y2="129" stroke="#bbb" stroke-width="0.6"/>
<line x1="462.4" y1="133" x2="466.4" y2="132" stroke="#bbb" stroke-width="0.6"/>
<ellipse cx="464.4" cy="136.3" rx="3.6" ry="1.4" fill="#fff" stroke="#111" stroke-width="1"/>
<line x1="515.4" y1="92.2" x2="528.7" y2="133.6" stroke="#111" stroke-width="1.1"/>
<line x1="528.7" y1="92.2" x2="528.7" y2="133.6" stroke="#111" stroke-width="1.1"/>
<circle cx="529.6" cy="144.8" r="10.3" fill="#fff" stroke="#000" stroke-width="1.2"/>
<rect x="528.6" y="135" width="2" height="19.5" fill="#111"/>
<g transform="translate(28.5,630.8) rotate(-28.5)"><path d="M11,-3.7 L44,-3.7 Q46.5,0 44,3.7 L11,3.7 Z" fill="#1a1a1a"/><line x1="12.0" y1="-3.4" x2="13.3" y2="3.4" stroke="#ddd" stroke-width="0.8"/><line x1="14.6" y1="-3.4" x2="15.9" y2="3.4" stroke="#ddd" stroke-width="0.8"/><line x1="17.2" y1="-3.4" x2="18.5" y2="3.4" stroke="#ddd" stroke-width="0.8"/><line x1="19.8" y1="-3.4" x2="21.1" y2="3.4" stroke="#ddd" stroke-width="0.8"/><line x1="22.4" y1="-3.4" x2="23.700000000000003" y2="3.4" stroke="#ddd" stroke-width="0.8"/><line x1="25.0" y1="-3.4" x2="26.3" y2="3.4" stroke="#ddd" stroke-width="0.8"/><line x1="27.6" y1="-3.4" x2="28.900000000000002" y2="3.4" stroke="#ddd" stroke-width="0.8"/><line x1="30.2" y1="-3.4" x2="31.5" y2="3.4" stroke="#ddd" stroke-width="0.8"/><line x1="32.8" y1="-3.4" x2="34.1" y2="3.4" stroke="#ddd" stroke-width="0.8"/><line x1="35.400000000000006" y1="-3.4" x2="36.7" y2="3.4" stroke="#ddd" stroke-width="0.8"/><line x1="38.0" y1="-3.4" x2="39.3" y2="3.4" stroke="#ddd" stroke-width="0.8"/><line x1="40.6" y1="-3.4" x2="41.900000000000006" y2="3.4" stroke="#ddd" stroke-width="0.8"/><path d="M1.5,-5.4 L5.5,-3 L11,-3 L11,3 L5.5,3 L1.5,5.4" fill="#fff" stroke="#111" stroke-width="1.1"/><ellipse cx="0.6" cy="0" rx="3" ry="5.6" fill="#fff" stroke="#111" stroke-width="1.2"/><circle cx="0.6" cy="0" r="1.6" fill="none" stroke="#333" stroke-width="0.8"/></g>
<g transform="rotate(-20 96.7 621.4)"><rect x="100.5" y="616.5" width="4.2" height="3.5" fill="#fff" stroke="#111" stroke-width="0.9"/><ellipse cx="96.7" cy="621.4" rx="5.8" ry="8" fill="#fff" stroke="#111" stroke-width="1.1"/></g>
<g transform="translate(126.3,616.7) rotate(27.91)"><rect x="0" y="-2.0" width="51.26" height="4.0" fill="#fff" stroke="#111" stroke-width="1.25"/><line x1="0" y1="-0.3" x2="51.26" y2="-0.3" stroke="#222" stroke-width="0.7"/></g>
<g transform="translate(126.3,616.7) rotate(-27.98)"><rect x="0" y="-2.0" width="30.69" height="4.0" fill="#fff" stroke="#111" stroke-width="1.25"/><line x1="0" y1="-0.3" x2="30.69" y2="-0.3" stroke="#222" stroke-width="0.7"/></g>
<ellipse cx="171.4" cy="640.5" rx="1.9" ry="2.3" fill="#fff" stroke="#111" stroke-width="1.2"/>
<ellipse cx="153.2" cy="602.5" rx="1.9" ry="2.3" fill="#fff" stroke="#111" stroke-width="1.2"/>
<path d="M124.6,616.7 L128,614.8 L128,618.6 Z" fill="#fff" stroke="#111" stroke-width="0.8"/>
<path d="M203.1,608.4 Q212,600 223.8,620.8" fill="none" stroke="#111" stroke-width="1.3"/>
<path d="M205,608.2 Q213,602.2 222,620" fill="none" stroke="#111" stroke-width="0.7"/>
<polygon points="184.9,615.9 200.6,606.8 227.9,623.3 227.9,626.3 213,637.9 184.9,618.9" fill="#fff" stroke="#111" stroke-width="1.1"/>
<polyline points="184.9,615.9 213,634.9 227.9,623.3" fill="none" stroke="#111" stroke-width="1.1"/>
<line x1="213" y1="634.9" x2="213" y2="637.9" stroke="#111" stroke-width="1.1"/>
<circle cx="195.6" cy="613.4" r="1.1" fill="#333" stroke="none" stroke-width="0"/>
<circle cx="217.1" cy="625.8" r="1.1" fill="#333" stroke="none" stroke-width="0"/>
<rect x="249" y="613.5" width="1.7" height="17.5" fill="#111"/>
<ellipse cx="249.9" cy="613" rx="1.8" ry="1.1" fill="#111"/>
<g transform="translate(282.3,627.1) rotate(-28.5)"><path d="M3,-3.0 L16.5,-2.7 L20.5,0 L16.5,2.7 L3,3.0 Z" fill="#1a1a1a"/><line x1="4.0" y1="-3.0" x2="5.2" y2="3.0" stroke="#888" stroke-width="0.6"/><line x1="6.3" y1="-3.0" x2="7.5" y2="3.0" stroke="#888" stroke-width="0.6"/><line x1="8.6" y1="-3.0" x2="9.8" y2="3.0" stroke="#888" stroke-width="0.6"/><line x1="10.899999999999999" y1="-3.0" x2="12.1" y2="3.0" stroke="#888" stroke-width="0.6"/><line x1="13.2" y1="-3.0" x2="14.399999999999999" y2="3.0" stroke="#888" stroke-width="0.6"/><ellipse cx="0" cy="0" rx="3.6799999999999997" ry="4.6" fill="#fff" stroke="#111" stroke-width="1.4"/><line x1="-2" y1="0" x2="2" y2="0" stroke="#111" stroke-width="1"/><line x1="0" y1="-2.6" x2="0" y2="2.6" stroke="#111" stroke-width="1"/></g>
<g transform="translate(317.1,633.4) rotate(-30.3)"><path d="M3,-2.4 L31.5,-2.16 L35.5,0 L31.5,2.16 L3,2.4 Z" fill="#1a1a1a"/><line x1="4.0" y1="-2.4" x2="5.2" y2="2.4" stroke="#888" stroke-width="0.6"/><line x1="6.3" y1="-2.4" x2="7.5" y2="2.4" stroke="#888" stroke-width="0.6"/><line x1="8.6" y1="-2.4" x2="9.8" y2="2.4" stroke="#888" stroke-width="0.6"/><line x1="10.899999999999999" y1="-2.4" x2="12.1" y2="2.4" stroke="#888" stroke-width="0.6"/><line x1="13.2" y1="-2.4" x2="14.399999999999999" y2="2.4" stroke="#888" stroke-width="0.6"/><line x1="15.5" y1="-2.4" x2="16.7" y2="2.4" stroke="#888" stroke-width="0.6"/><line x1="17.799999999999997" y1="-2.4" x2="19.0" y2="2.4" stroke="#888" stroke-width="0.6"/><line x1="20.099999999999998" y1="-2.4" x2="21.299999999999997" y2="2.4" stroke="#888" stroke-width="0.6"/><line x1="22.4" y1="-2.4" x2="23.599999999999998" y2="2.4" stroke="#888" stroke-width="0.6"/><line x1="24.7" y1="-2.4" x2="25.9" y2="2.4" stroke="#888" stroke-width="0.6"/><line x1="27.0" y1="-2.4" x2="28.2" y2="2.4" stroke="#888" stroke-width="0.6"/><line x1="29.299999999999997" y1="-2.4" x2="30.499999999999996" y2="2.4" stroke="#888" stroke-width="0.6"/><ellipse cx="0" cy="0" rx="3.44" ry="4.3" fill="#fff" stroke="#111" stroke-width="1.4"/><line x1="-2" y1="0" x2="2" y2="0" stroke="#111" stroke-width="1"/><line x1="0" y1="-2.6" x2="0" y2="2.6" stroke="#111" stroke-width="1"/></g>
<g transform="translate(358,632.2) rotate(-29)"><path d="M31,-4.3 L48,-4.3 Q50,0 48,4.3 L31,4.3 Z" fill="#1a1a1a"/><line x1="33" y1="-4" x2="34.5" y2="4" stroke="#ccc" stroke-width="0.8"/><line x1="36" y1="-4" x2="37.5" y2="4" stroke="#ccc" stroke-width="0.8"/><line x1="39" y1="-4" x2="40.5" y2="4" stroke="#ccc" stroke-width="0.8"/><line x1="42" y1="-4" x2="43.5" y2="4" stroke="#ccc" stroke-width="0.8"/><line x1="45" y1="-4" x2="46.5" y2="4" stroke="#ccc" stroke-width="0.8"/><rect x="10" y="-4.4" width="21" height="8.8" fill="#fff" stroke="#111" stroke-width="1.1"/><ellipse cx="10" cy="0" rx="1.6" ry="4.4" fill="#fff" stroke="#111" stroke-width="1"/><rect x="4" y="-2.2" width="6" height="4.4" fill="#fff" stroke="#111" stroke-width="1"/><ellipse cx="1" cy="0" rx="2.8" ry="4.8" fill="#fff" stroke="#111" stroke-width="1.4"/><line x1="1" y1="-3.6" x2="1" y2="3.6" stroke="#111" stroke-width="1.2"/></g>
<path d="M418.2,615.5 L418.2,628 Q419,633.8 426,634 Q433.5,633.8 434.6,628 L434.6,615.5 Z" fill="#fff" stroke="#111" stroke-width="1.4"/>
<rect x="418.4" y="618.6" width="16" height="4.6" fill="#1c1c1c"/>
<rect x="420.3" y="619.6" width="2.6" height="2.4" fill="#eee"/><rect x="424.4" y="619.6" width="2.6" height="2.4" fill="#eee"/><rect x="428.5" y="619.6" width="2.6" height="2.4" fill="#eee"/>
<path d="M419,626 Q426,623.5 434,626.5 L434,629.5 Q426,636 419,629.5 Z" fill="#1c1c1c"/>
<path d="M421,628 Q426,626.5 431.5,628.5" fill="none" stroke="#ddd" stroke-width="0.9"/>
<path d="M417.6,624 L416.6,628.6 L419.6,628.2" fill="none" stroke="#111" stroke-width="1.1"/>
<ellipse cx="426" cy="614.9" rx="8.3" ry="5.6" fill="#fff" stroke="#111" stroke-width="1.4"/>
<path d="M422.2,612.5 L429.8,617.3 M429.8,612.5 L422.2,617.3" stroke="#111" stroke-width="2"/>
<ellipse cx="490.8" cy="619" rx="12.9" ry="7.8" fill="#fff" stroke="#111" stroke-width="1.2"/>
<ellipse cx="490.8" cy="618.1" rx="12.4" ry="7.2" fill="none" stroke="#222" stroke-width="0.9"/>
<g transform="translate(537.4,620.7) rotate(-27.5)"><rect x="0" y="-3" width="21.5" height="6" rx="2.6" fill="#fff" stroke="#111" stroke-width="1.6"/><line x1="3" y1="-0.3" x2="20" y2="-0.3" stroke="#111" stroke-width="1"/><ellipse cx="1.8" cy="0" rx="1.7" ry="3" fill="#fff" stroke="#111" stroke-width="1.1"/></g>
<polygon points="571.6,597.7 651.5,622.1 657,624.3 661.5,628 661.6,636.4 657,637.5 654,633 651,631 646.5,626.3 571.6,605.3" fill="#fff" stroke="#111" stroke-width="1.1"/>
<line x1="571.6" y1="599.8" x2="651" y2="624.2" stroke="#111" stroke-width="1.8"/>
<line x1="571.6" y1="603" x2="647" y2="626" stroke="#111" stroke-width="0.8"/>
<rect x="577" y="602.5" width="2" height="1.6" fill="#111"/>
<rect x="585" y="604.8" width="2" height="1.6" fill="#111"/>
<rect x="594" y="607.7" width="2" height="1.6" fill="#111"/>
<rect x="625" y="617.3" width="2" height="1.6" fill="#111"/>
<rect x="650" y="625.5" width="2" height="1.6" fill="#111"/>
<rect x="655" y="629" width="4" height="5" fill="#fff" stroke="#111" stroke-width="1"/>
<polygon points="571.6,613.7 661.6,642.3 661.6,645 658.3,649.9 568.2,619.6 571.6,618" fill="#fff" stroke="#111" stroke-width="1.1"/>
<line x1="571.6" y1="615.6" x2="660" y2="644.2" stroke="#111" stroke-width="1.8"/>
<line x1="570" y1="619.3" x2="659" y2="648" stroke="#111" stroke-width="0.8"/>
</svg>
</body></html>
